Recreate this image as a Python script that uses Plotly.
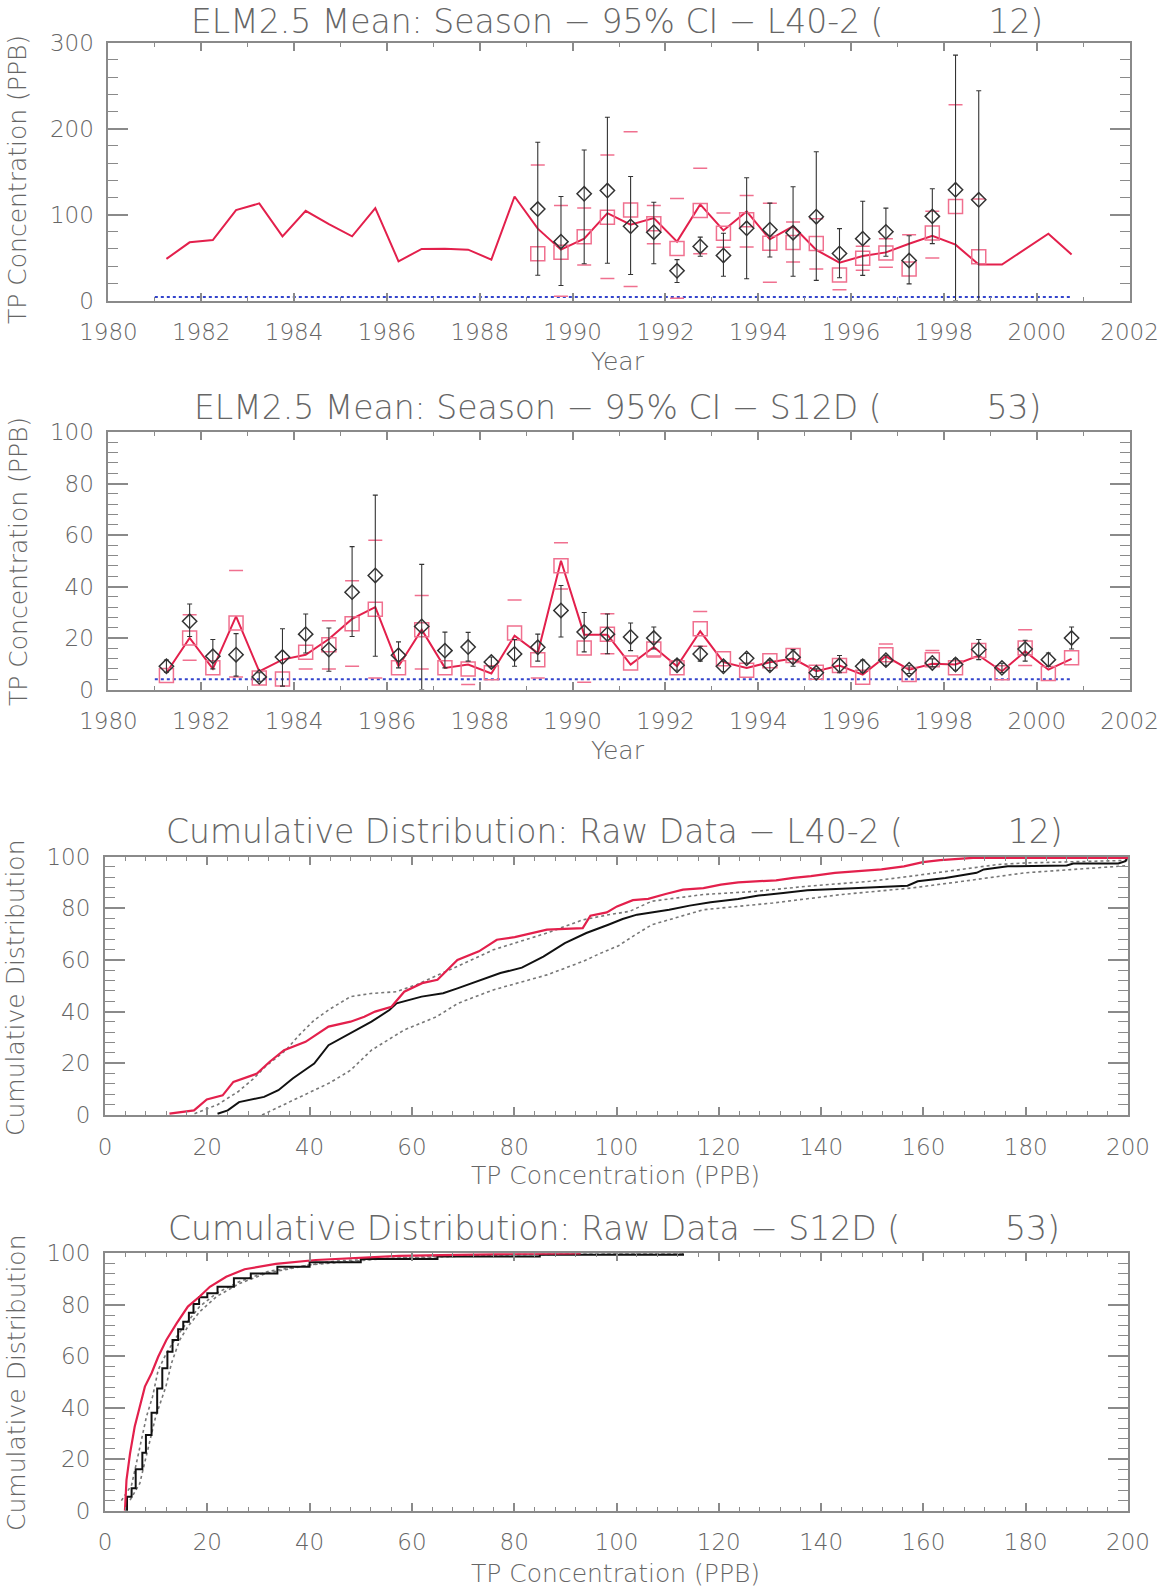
import plotly.graph_objects as go

# ---------------- data ----------------
SEASONS = [1981.25, 1981.75, 1982.25, 1982.75, 1983.25, 1983.75, 1984.25, 1984.75,
           1985.25, 1985.75, 1986.25, 1986.75, 1987.25, 1987.75, 1988.25, 1988.75,
           1989.25, 1989.75, 1990.25, 1990.75, 1991.25, 1991.75, 1992.25, 1992.75,
           1993.25, 1993.75, 1994.25, 1994.75, 1995.25, 1995.75, 1996.25, 1996.75,
           1997.25, 1997.75, 1998.25, 1998.75, 1999.25, 1999.75, 2000.25, 2000.75]

DL_YEARS = [1981.0, 2000.75]
DL_VALUE = 4

# L40-2 panel
L40_MODEL = [48.4, 67.7, 70.4, 105.2, 113.0, 74.7, 104.4, 89.0, 74.7, 107.5,
             45.6, 60.0, 60.3, 59.2, 47.6, 121.0, 83.6, 59.2, 72.0, 101.7,
             88.2, 95.9, 68.5, 111.8, 81.5, 103.7, 71.2, 86.3, 58.8, 44.1,
             51.8, 56.0, 66.0, 75.4, 65.0, 41.8, 41.8, 60.0, 77.8, 53.4]
L40_OBS_YEARS = [1989.25, 1989.75, 1990.25, 1990.75, 1991.25, 1991.75, 1992.25, 1992.75,
                 1993.25, 1993.75, 1994.25, 1994.75, 1995.25, 1995.75, 1996.25, 1996.75,
                 1997.25, 1997.75, 1998.25, 1998.75]
L40_OBS = [106.4, 68.5, 124.2, 128.0, 86.3, 79.5, 34.6, 62.9, 52.4, 84.0,
           82.4, 78.9, 97.5, 54.8, 72.0, 79.9, 46.6, 97.9, 128.8, 117.2]
L40_OBS_HI = [184.1, 121.0, 175.2, 213.2, 144.3, 114.3, 47.6, 73.7, 78.2, 142.8,
              113.3, 132.3, 173.1, 83.6, 115.5, 107.5, 75.4, 130.0, 285.5, 244.1]
L40_OBS_LO = [29.4, 17.4, 42.8, 43.3, 30.2, 42.8, 20.9, 51.5, 28.2, 25.3,
              50.7, 28.2, 23.4, 26.5, 29.2, 51.5, 19.3, 66.2, 0.0, 0.0]
L40_SIM = [54.5, 56.1, 74.3, 96.9, 105.2, 89.2, 60.5, 104.6, 78.2, 94.0,
           66.6, 67.5, 66.4, 29.8, 49.3, 55.3, 36.8, 78.5, 109.5, 51.0]
L40_SIM_HI = [157.8, 110.6, 107.5, 169.2, 196.5, 110.6, 118.6, 154.0, 101.7, 122.2,
              113.3, 91.3, 95.2, None, 63.1, 72.0, 76.6, 104.0, 227.8, 118.0]
L40_SIM_LO = [None, 5.0, 41.4, 25.7, 16.2, 66.0, 2.5, 54.3, 62.0, 62.3,
              21.3, 44.7, 36.8, 12.5, 35.2, 38.7, None, 49.5, None, None]

# S12D panel
S12D_MODEL = [6.5, 20.0, 8.0, 28.4, 7.0, 11.6, 13.5, 19.6, 27.4, 32.0,
              9.0, 23.2, 8.4, 9.7, 6.2, 20.9, 14.2, 50.0, 21.3, 21.3,
              9.7, 16.5, 9.0, 22.6, 10.6, 8.4, 10.6, 12.0, 7.1, 9.3,
              5.8, 12.9, 7.7, 10.0, 9.7, 13.2, 7.1, 14.8, 7.7, 11.9]
S12D_OBS = [9.0, 26.5, 12.9, 13.5, 4.9, 12.6, 21.5, 15.5, 37.8, 44.3,
            13.3, 24.5, 15.1, 16.5, 10.7, 13.8, 16.4, 30.7, 22.3, 21.5,
            20.4, 20.0, 9.4, 13.8, 9.0, 12.1, 9.4, 12.5, 6.5, 9.4,
            9.0, 11.4, 7.7, 10.3, 9.7, 15.5, 8.4, 15.7, 11.6, 20.0]
S12D_OBS_HI = [11.4, 33.2, 19.4, 21.7, 6.5, 23.6, 29.3, 23.9, 55.5, 75.5,
               18.5, 48.6, 22.3, 22.2, 12.6, 19.4, 21.5, 40.4, 29.9, 29.3,
               25.8, 24.3, 11.6, 16.8, 11.0, 14.0, 11.4, 15.5, 8.0, 13.2,
               11.4, 13.3, 9.2, 11.9, 11.9, 19.4, 10.2, 19.1, 14.2, 24.3]
S12D_OBS_LO = [6.7, 20.6, 8.0, 5.2, 3.2, 1.3, 14.2, 7.1, 20.6, 12.9,
               8.4, 0.0, 8.4, 11.0, 8.8, 9.0, 11.0, 20.4, 14.6, 13.9,
               15.1, 15.7, 7.5, 11.0, 7.0, 10.2, 7.4, 9.0, 5.0, 6.5,
               6.7, 9.3, 6.2, 8.8, 7.5, 11.6, 6.6, 11.0, 9.0, 15.7]
S12D_SIM = [5.4, 20.0, 8.4, 25.8, 4.5, 4.1, 14.5, 17.4, 25.5, 31.2,
            8.4, 23.2, 8.4, 8.0, 6.5, 21.9, 11.6, 48.1, 16.1, 21.5,
            10.3, 15.7, 8.4, 23.6, 11.9, 7.5, 11.2, 13.2, 6.7, 9.3,
            4.8, 13.5, 5.8, 11.6, 8.4, 15.1, 6.5, 16.1, 6.2, 12.3]
S12D_SIM_HI = [None, 29.0, None, 46.2, None, None, None, 26.7, 42.2, 58.0,
               None, 36.5, None, None, None, 34.8, None, 57.0, None, 29.4,
               None, None, None, 30.3, None, None, None, None, None, None,
               None, 17.7, None, 15.1, None, None, None, 23.2, None, None]
S12D_SIM_LO = [None, 11.4, None, 4.9, None, None, 8.0, 8.0, 9.0, 4.5,
               None, 8.0, None, 1.9, None, None, 4.5, 39.0, 2.8, 13.9,
               None, 12.6, None, 16.8, None, None, None, None, None, None,
               None, None, None, None, None, None, None, 9.3, None, None]

# CDF L40-2 (TP concentration, cumulative %)
L40_CDF_SIM_X = [12.6, 17.4, 19.9, 23.0, 25.1, 29.7, 32.2, 35.0, 39.2, 43.7, 48.0, 50.7,
                 52.8, 56.0, 58.5, 62.0, 65.0, 67.2, 68.9, 73.1, 76.6, 80.1, 86.4, 93.4,
                 94.9, 98.1, 100.1, 103.2, 106.2, 109.6, 113.0, 117.0, 120.4, 123.8, 131.2,
                 134.6, 138.0, 142.7, 146.4, 151.8, 156.2, 159.9, 163.3, 169.7, 201.0]
L40_CDF_SIM_Y = [0.5, 1.8, 6.0, 7.6, 12.8, 16.0, 20.6, 25.1, 28.3, 34.2, 36.1, 38.0,
                 40.0, 41.9, 47.7, 51.0, 52.3, 56.8, 60.0, 63.3, 67.8, 68.8, 71.7, 72.3,
                 77.1, 78.4, 80.7, 83.1, 83.6, 85.5, 87.2, 87.8, 89.1, 90.0, 90.8,
                 91.7, 92.4, 93.7, 94.3, 95.0, 96.2, 97.8, 98.6, 99.5, 99.5]
L40_CDF_OBS_X = [22.0, 24.0, 26.2, 31.1, 33.9, 36.7, 39.5, 40.9, 43.7, 48.0, 52.1, 55.6,
                 57.0, 61.9, 66.1, 68.9, 73.1, 77.3, 81.5, 85.7, 89.9, 94.1, 98.4, 101.2,
                 104.0, 107.2, 110.3, 114.3, 118.4, 123.8, 127.8, 132.6, 137.3, 144.1,
                 150.1, 156.9, 158.9, 164.3, 170.4, 171.8, 176.5, 188.0, 189.3, 198.1,
                 199.5, 200.0]
L40_CDF_OBS_Y = [0.5, 1.8, 5.0, 7.0, 9.6, 14.1, 18.0, 19.9, 27.0, 31.6, 36.1, 40.6,
                 43.2, 45.8, 47.1, 49.0, 52.0, 54.9, 57.0, 61.3, 66.5, 70.4, 73.6, 75.8,
                 77.5, 78.4, 79.4, 81.0, 82.3, 83.6, 84.9, 85.9, 86.9, 87.5,
                 88.1, 88.7, 90.4, 91.7, 93.7, 95.0, 96.2, 96.5, 97.3, 97.3,
                 98.2, 100.0]
L40_CDF_UP_X = [17.5, 22.0, 26.0, 29.0, 31.5, 35.3, 38.0, 40.9, 44.0, 48.0, 52.0, 57.0,
                61.0, 66.1, 70.0, 75.9, 81.0, 86.4, 93.4, 98.0, 102.6, 106.9, 117.0,
                127.2, 137.3, 149.5, 157.6, 167.7, 174.5, 179.9, 200.0]
L40_CDF_UP_Y = [0.5, 4.0, 9.0, 14.0, 19.0, 25.0, 31.0, 36.7, 41.0, 45.8, 47.0, 47.7,
                50.5, 54.9, 58.5, 63.9, 67.0, 70.4, 75.5, 77.3, 78.8, 82.7, 85.3,
                86.5, 88.5, 90.4, 92.4, 95.2, 96.9, 97.5, 98.5]
L40_CDF_LO_X = [30.7, 35.3, 40.9, 44.0, 48.0, 52.1, 58.5, 64.8, 69.0, 75.9, 86.4, 93.4,
                96.8, 100.4, 103.5, 106.9, 117.0, 130.5, 144.1, 157.6, 167.7, 179.9,
                198.1, 200.0]
L40_CDF_LO_Y = [0.0, 4.4, 9.6, 12.5, 17.3, 25.1, 32.9, 38.0, 43.2, 48.4, 54.2, 59.4,
                62.5, 65.5, 69.5, 73.6, 79.4, 82.0, 85.3, 87.8, 90.4, 93.7,
                96.2, 96.5]

# CDF S12D
S12D_CDF_SIM_X = [3.9, 4.2, 4.9, 5.8, 6.8, 7.8, 9.1, 10.4, 12.0, 14.0, 16.2, 18.5,
                  20.5, 23.7, 27.3, 33.4, 41.2, 48.4, 57.5, 77.0, 93.0]
S12D_CDF_SIM_Y = [0.0, 11.9, 22.3, 32.6, 40.4, 48.2, 53.4, 59.8, 66.3, 72.8, 79.3, 83.2,
                  87.0, 90.9, 93.8, 95.9, 97.4, 98.1, 99.0, 99.7, 100.0]
S12D_CDF_OBS_X = [4.2, 4.3, 5.2, 6.0, 7.3, 8.0, 9.1, 10.2, 11.2, 12.2, 13.2, 14.3,
                  15.3, 16.4, 17.3, 18.4, 20.0, 22.0, 25.2, 28.5, 33.7, 40.0, 50.0,
                  65.0, 85.0, 113.0]
S12D_CDF_OBS_Y = [0.0, 5.4, 8.7, 16.1, 22.5, 29.4, 38.1, 47.5, 55.3, 61.8, 66.3, 70.5,
                  73.4, 76.9, 80.3, 82.9, 84.5, 87.0, 90.3, 92.2, 94.8, 96.5, 97.8,
                  98.8, 99.4, 100.0]
S12D_CDF_UP_X = [3.2, 5.2, 6.2, 7.1, 8.1, 9.3, 10.4, 12.0, 14.0, 15.9, 18.5, 21.8,
                 26.3, 32.0, 45.0, 70.0, 113.0]
S12D_CDF_UP_Y = [3.9, 10.0, 19.0, 27.5, 36.5, 44.3, 54.7, 61.1, 67.6, 72.8, 79.3, 84.5,
                 89.0, 93.0, 97.0, 99.3, 100.0]
S12D_CDF_LO_X = [4.9, 6.8, 7.8, 8.8, 9.9, 11.9, 13.0, 14.6, 16.2, 18.5, 21.8, 26.3,
                 31.5, 40.0, 55.0, 80.0, 113.0]
S12D_CDF_LO_Y = [4.1, 10.6, 19.0, 27.5, 36.5, 48.2, 57.3, 66.3, 71.5, 77.3, 83.2, 88.3,
                 92.2, 95.5, 98.0, 99.5, 100.0]

YEAR_TICKS = [1980, 1982, 1984, 1986, 1988, 1990, 1992, 1994, 1996, 1998, 2000, 2002]
CONC_TICKS = [0, 20, 40, 60, 80, 100, 120, 140, 160, 180, 200]

TITLES = ["ELM2.5 Mean: Season \u2212 95% CI \u2212 L40-2 (          12)",
          "ELM2.5 Mean: Season \u2212 95% CI \u2212 S12D (          53)",
          "Cumulative Distribution: Raw Data \u2212 L40-2 (          12)",
          "Cumulative Distribution: Raw Data \u2212 S12D (          53)"]

# ---------------- style ----------------
FONT = "DejaVu Sans, sans-serif"
FW = 200
TXT = "#666666"
AXC = "#8a8a8a"
RED = "#e3204c"
PINK = "#f0708f"
BLACK = "#333333"
BLUE = "#3344cc"
GRAY = "#777777"

fig = go.Figure()


def series_panel(ax, model, oyears, obs, ohi, olo, syears, sim, shi, slo):
    xa, ya = ax
    fig.add_trace(go.Scatter(x=DL_YEARS, y=[DL_VALUE, DL_VALUE], mode="lines",
                             line=dict(color=BLUE, width=2, dash="dot"),
                             xaxis=xa, yaxis=ya, showlegend=False))
    fig.add_trace(go.Scatter(x=SEASONS, y=model, mode="lines",
                             line=dict(color=RED, width=2),
                             xaxis=xa, yaxis=ya, showlegend=False))
    fig.add_trace(go.Scatter(x=syears, y=sim, mode="markers",
                             marker=dict(symbol="square-open", size=14, color=PINK,
                                         line=dict(width=1.5, color=PINK)),
                             xaxis=xa, yaxis=ya, showlegend=False))
    for arr in (shi, slo):
        fig.add_trace(go.Scatter(x=syears, y=arr, mode="markers",
                                 marker=dict(symbol="line-ew", size=10, color=PINK,
                                             line=dict(width=1.5, color=PINK)),
                                 xaxis=xa, yaxis=ya, showlegend=False))
    fig.add_trace(go.Scatter(x=oyears, y=obs, mode="markers",
                             marker=dict(symbol="diamond-open", size=11, color=BLACK,
                                         line=dict(width=1.5, color=BLACK)),
                             error_y=dict(type="data", symmetric=False,
                                          array=[h - v for h, v in zip(ohi, obs)],
                                          arrayminus=[v - l for v, l in zip(obs, olo)],
                                          color=BLACK, thickness=1.1, width=2.5),
                             xaxis=xa, yaxis=ya, showlegend=False))


series_panel(("x", "y"), L40_MODEL, L40_OBS_YEARS, L40_OBS, L40_OBS_HI, L40_OBS_LO,
             L40_OBS_YEARS, L40_SIM, L40_SIM_HI, L40_SIM_LO)
series_panel(("x2", "y2"), S12D_MODEL, SEASONS, S12D_OBS, S12D_OBS_HI, S12D_OBS_LO,
             SEASONS, S12D_SIM, S12D_SIM_HI, S12D_SIM_LO)


def cdf_panel(ax, sx, sy, ox, oy, ux, uy, lx, ly, obs_shape):
    xa, ya = ax
    for bx, by in ((ux, uy), (lx, ly)):
        fig.add_trace(go.Scatter(x=bx, y=by, mode="lines",
                                 line=dict(color=GRAY, width=1.6, dash="dot"),
                                 xaxis=xa, yaxis=ya, showlegend=False))
    fig.add_trace(go.Scatter(x=ox, y=oy, mode="lines", line_shape=obs_shape,
                             line=dict(color="#111111", width=2),
                             xaxis=xa, yaxis=ya, showlegend=False))
    fig.add_trace(go.Scatter(x=sx, y=sy, mode="lines",
                             line=dict(color=RED, width=2.2),
                             xaxis=xa, yaxis=ya, showlegend=False))


cdf_panel(("x3", "y3"), L40_CDF_SIM_X, L40_CDF_SIM_Y, L40_CDF_OBS_X, L40_CDF_OBS_Y,
          L40_CDF_UP_X, L40_CDF_UP_Y, L40_CDF_LO_X, L40_CDF_LO_Y, "linear")
cdf_panel(("x4", "y4"), S12D_CDF_SIM_X, S12D_CDF_SIM_Y, S12D_CDF_OBS_X, S12D_CDF_OBS_Y,
          S12D_CDF_UP_X, S12D_CDF_UP_Y, S12D_CDF_LO_X, S12D_CDF_LO_Y, "hv")

H = 1589.0
W = 1169.0


def xaxis(domain, anchor, rng, tickvals, minor_dtick):
    return dict(domain=domain, anchor=anchor, range=rng, tickmode="array",
                tickvals=tickvals, ticktext=[str(t) for t in tickvals],
                showline=True, linecolor=AXC, linewidth=2, mirror="ticks",
                ticks="inside", ticklen=8, tickwidth=1.5, tickcolor=AXC,
                minor=dict(ticks="inside", dtick=minor_dtick, ticklen=4,
                           tickwidth=1.2, tickcolor=AXC, showgrid=False),
                showgrid=False, zeroline=False, ticklabelstandoff=10, automargin=False,
                tickfont=dict(family=FONT, size=23, color=TXT, weight=FW))


def yaxis(domain, anchor, rng, dtick, minor_dtick):
    return dict(domain=domain, anchor=anchor, range=rng, tickmode="linear",
                tick0=0, dtick=dtick,
                showline=True, linecolor=AXC, linewidth=2, mirror="ticks",
                ticks="inside", ticklen=20, tickwidth=1.5, tickcolor=AXC,
                minor=dict(ticks="inside", dtick=minor_dtick, ticklen=10,
                           tickwidth=1.2, tickcolor=AXC, showgrid=False),
                showgrid=False, zeroline=False, ticklabelstandoff=8, automargin=False,
                tickfont=dict(family=FONT, size=23, color=TXT, weight=FW))


XD12 = [108.4 / W, 1129.6 / W]
XD34 = [105.0 / W, 1128.0 / W]
YD = [[1 - 300.5 / H, 1 - 42.7 / H],
      [1 - 689.5 / H, 1 - 432.0 / H],
      [1 - 1115.0 / H, 1 - 856.5 / H],
      [1 - 1510.7 / H, 1 - 1253.3 / H]]

layout = dict(
    width=1169, height=1589, autosize=False,
    margin=dict(l=0, r=0, t=0, b=0, pad=0, autoexpand=False),
    paper_bgcolor="white", plot_bgcolor="white", showlegend=False,
    xaxis=xaxis(XD12, "y", [1980, 2002], YEAR_TICKS, 1),
    yaxis=yaxis(YD[0], "x", [0, 300], 100, 20),
    xaxis2=xaxis(XD12, "y2", [1980, 2002], YEAR_TICKS, 1),
    yaxis2=yaxis(YD[1], "x2", [0, 100], 20, 4),
    xaxis3=xaxis(XD34, "y3", [0, 200], CONC_TICKS, 4),
    yaxis3=yaxis(YD[2], "x3", [0, 100], 20, 4),
    xaxis4=xaxis(XD34, "y4", [0, 200], CONC_TICKS, 4),
    yaxis4=yaxis(YD[3], "x4", [0, 100], 20, 4),
)
fig.update_layout(**layout)

ann = []
# first title is anchored at its top so that it stays inside the page
title_pos = [(616.5, 0.0, "top"), (617.0, 407.0, "middle"),
             (614.0, 832.0, "middle"), (614.0, 1228.0, "middle")]
for t, (px, py, anc) in zip(TITLES, title_pos):
    ann.append(dict(text=t, x=px / W, y=1 - py / H, xref="paper", yref="paper",
                    xanchor="center", yanchor=anc, showarrow=False,
                    font=dict(family=FONT, size=33, color=TXT, weight=FW)))
xtitles = [("Year", 618, 361), ("Year", 618, 751),
           ("TP Concentration (PPB)", 615, 1175), ("TP Concentration (PPB)", 615, 1573)]
for t, px, py in xtitles:
    ann.append(dict(text=t, x=px / W, y=1 - py / H, xref="paper", yref="paper",
                    xanchor="center", yanchor="middle", showarrow=False,
                    font=dict(family=FONT, size=25, color=TXT, weight=FW)))
ytitles = [("TP Concentration (PPB)", 18, 180), ("TP Concentration (PPB)", 18, 562),
           ("Cumulative Distribution", 16, 988), ("Cumulative Distribution", 16, 1383)]
for t, px, py in ytitles:
    ann.append(dict(text=t, x=px / W, y=1 - py / H, xref="paper", yref="paper",
                    xanchor="center", yanchor="middle", showarrow=False, textangle=-90,
                    font=dict(family=FONT, size=25, color=TXT, weight=FW)))
fig.update_layout(annotations=ann)

fig.write_html("out.html")
